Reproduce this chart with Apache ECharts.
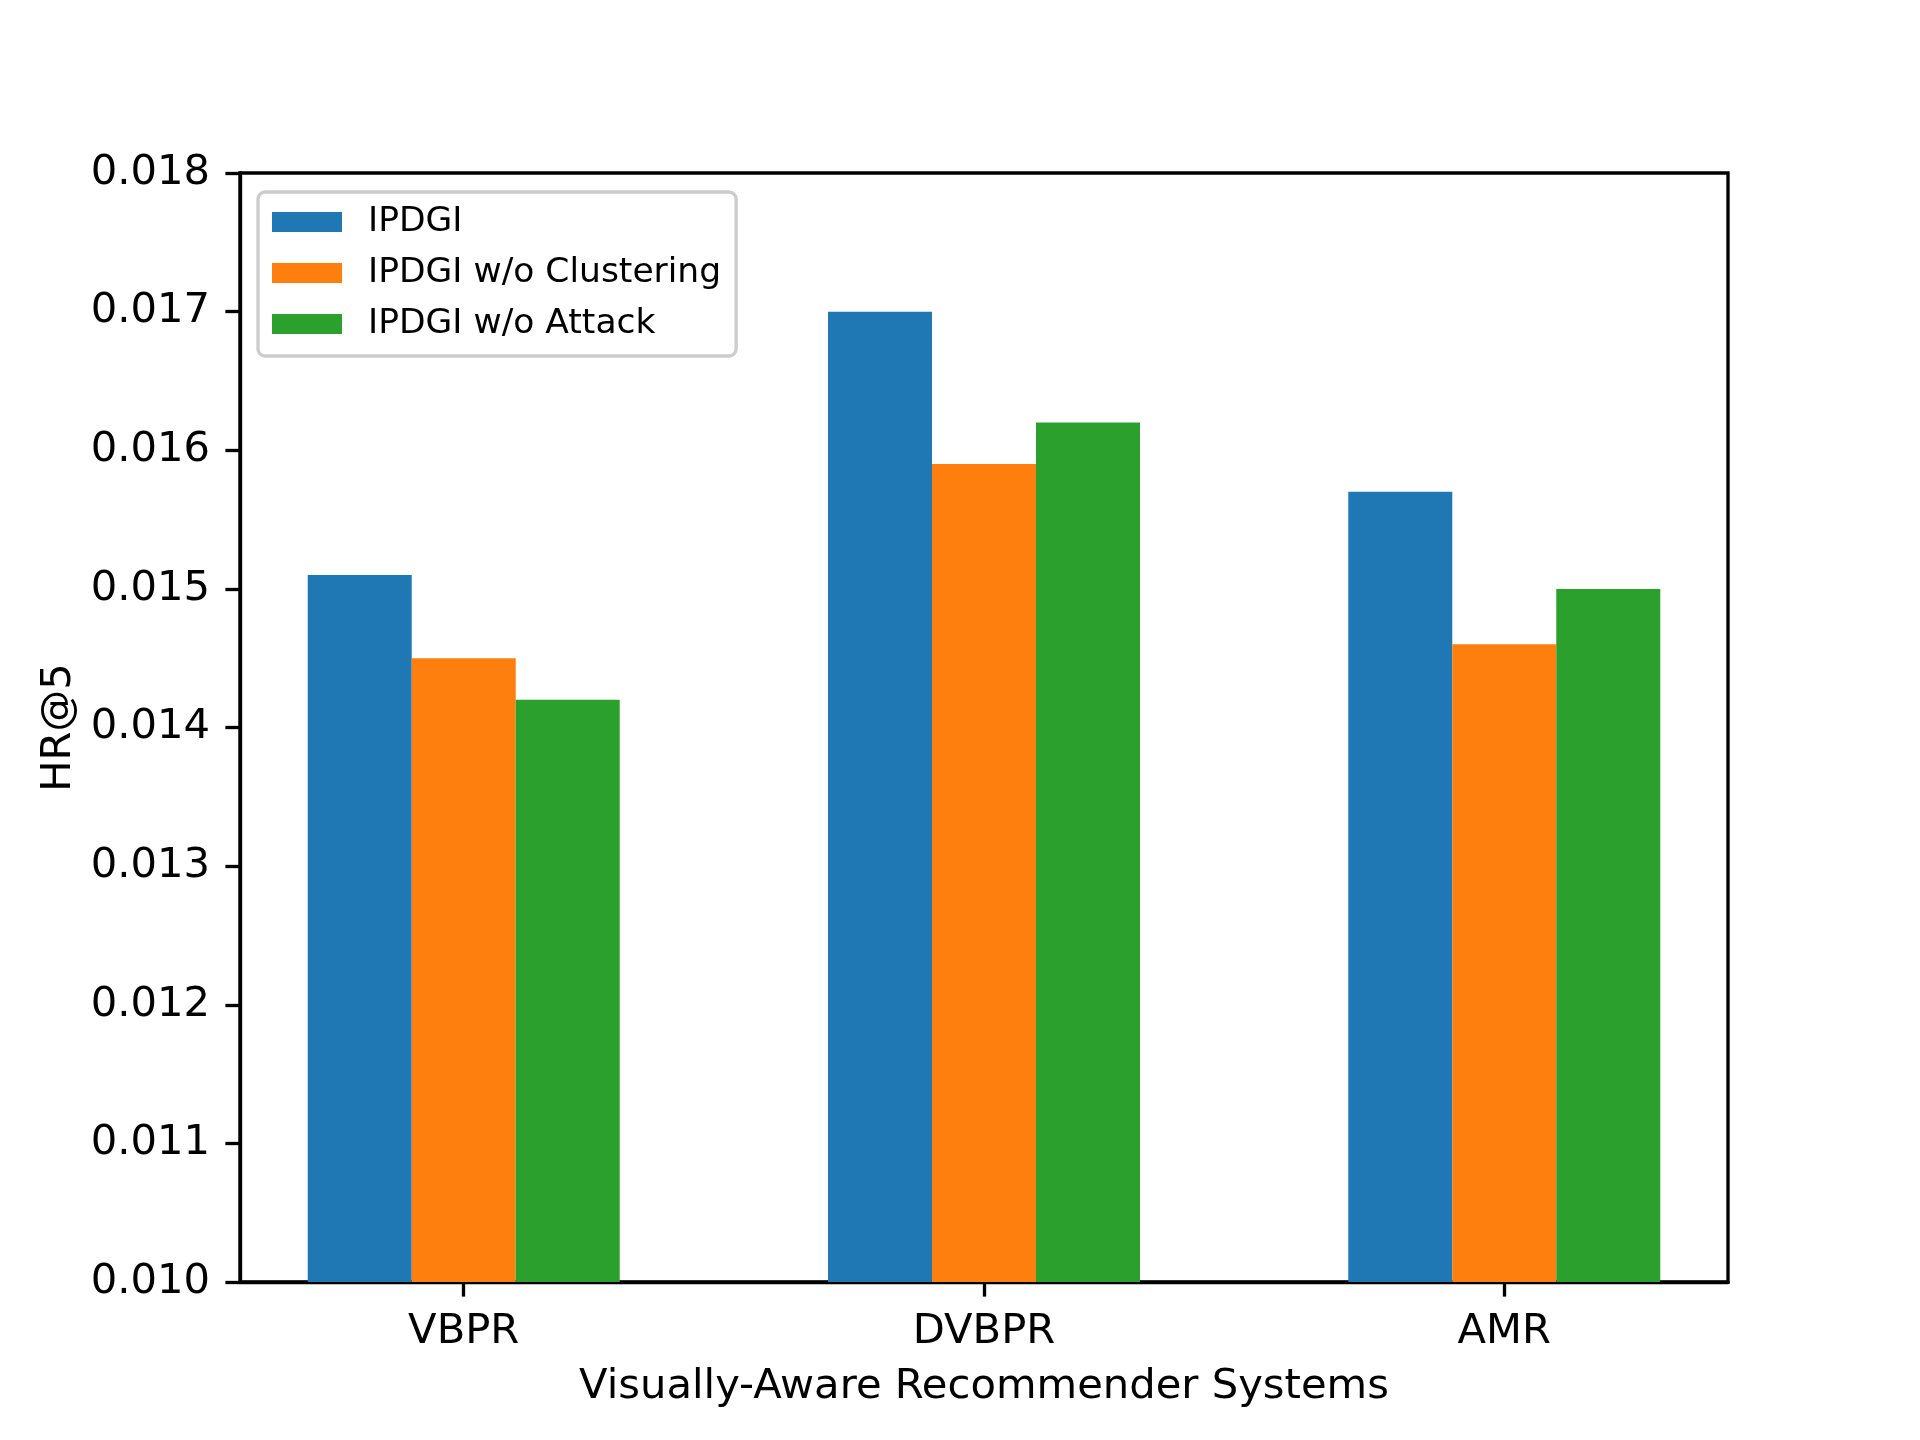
<!DOCTYPE html>
<html>
<head>
<meta charset="utf-8">
<script src="https://cdn.jsdelivr.net/npm/echarts@6/dist/echarts.min.js"></script>
<style>
html, body { margin: 0; padding: 0; background: #fff; }
#chart { width: 1920px; height: 1440px; }
</style>
</head>
<body>
<div id="chart"></div>
<script>
var systems = ['VBPR', 'DVBPR', 'AMR'];
var seriesNames = ['IPDGI', 'IPDGI w/o Clustering', 'IPDGI w/o Attack'];
var ipdgi = [0.0151, 0.0170, 0.0157];
var noClustering = [0.0145, 0.0159, 0.0146];
var noAttack = [0.0142, 0.0162, 0.0150];
var yTicks = [0.010, 0.011, 0.012, 0.013, 0.014, 0.015, 0.016, 0.017, 0.018];

var colors = ['#1f77b4', '#ff7f0e', '#2ca02c'];
var font = 'DejaVu Sans';
var lw = 3.33;

function pairs(vals) {
    var list = [];
    for (var i = 0; i < vals.length; i++) {
        list.push([i, vals[i]]);
    }
    return list;
}

var idx = [];
for (var i = 0; i < systems.length; i++) idx.push(i);

var chart = echarts.init(document.getElementById('chart'));
chart.setOption({
    backgroundColor: '#fff',
    animation: false,
    color: colors,
    grid: {
        left: 240,
        right: 192,
        top: 173,
        bottom: 158,
        show: true,
        borderColor: '#000',
        borderWidth: lw,
        backgroundColor: 'transparent'
    },
    legend: {
        orient: 'vertical',
        left: 258,
        top: 192,
        icon: 'rect',
        itemWidth: 70,
        itemHeight: 20,
        itemGap: 11,
        padding: [10, 15, 12, 14],
        backgroundColor: '#fff',
        borderColor: '#cccccc',
        borderWidth: 3.3,
        borderRadius: 7,
        data: seriesNames,
        textStyle: {
            fontFamily: font,
            fontSize: 34.5,
            color: '#000',
            lineHeight: 40,
            padding: [0, 0, 0, 21]
        }
    },
    xAxis: {
        type: 'value',
        min: -0.43,
        max: 2.43,
        name: 'Visually-Aware Recommender Systems',
        nameLocation: 'middle',
        nameGap: 84,
        nameTextStyle: { fontFamily: font, fontSize: 41.7, color: '#000' },
        splitLine: { show: false },
        axisLine: { show: true, onZero: false, lineStyle: { color: '#000', width: lw } },
        axisTick: {
            show: true,
            length: 14.6,
            customValues: idx,
            lineStyle: { color: '#000', width: lw }
        },
        axisLabel: {
            customValues: idx,
            margin: 29,
            fontFamily: font,
            fontSize: 41.7,
            color: '#000',
            formatter: function (v) { return systems[Math.round(v)]; }
        }
    },
    yAxis: {
        type: 'value',
        min: 0.010,
        max: 0.018,
        interval: 0.001,
        name: 'HR@5',
        nameLocation: 'middle',
        nameGap: 160,
        nameTextStyle: { fontFamily: font, fontSize: 41.7, color: '#000' },
        splitLine: { show: false },
        axisLine: { show: true, onZero: false, lineStyle: { color: '#000', width: lw } },
        axisTick: {
            show: true,
            length: 14.6,
            customValues: yTicks,
            lineStyle: { color: '#000', width: lw }
        },
        axisLabel: {
            customValues: yTicks,
            margin: 30,
            padding: [5, 0, 0, 0],
            fontFamily: font,
            fontSize: 41.7,
            color: '#000',
            formatter: function (v) { return v.toFixed(3); }
        }
    },
    series: [
        { name: seriesNames[0], type: 'bar', barWidth: 104, barGap: '0%', data: pairs(ipdgi) },
        { name: seriesNames[1], type: 'bar', barWidth: 104, barGap: '0%', data: pairs(noClustering) },
        { name: seriesNames[2], type: 'bar', barWidth: 104, barGap: '0%', data: pairs(noAttack) }
    ]
});
</script>
</body>
</html>
